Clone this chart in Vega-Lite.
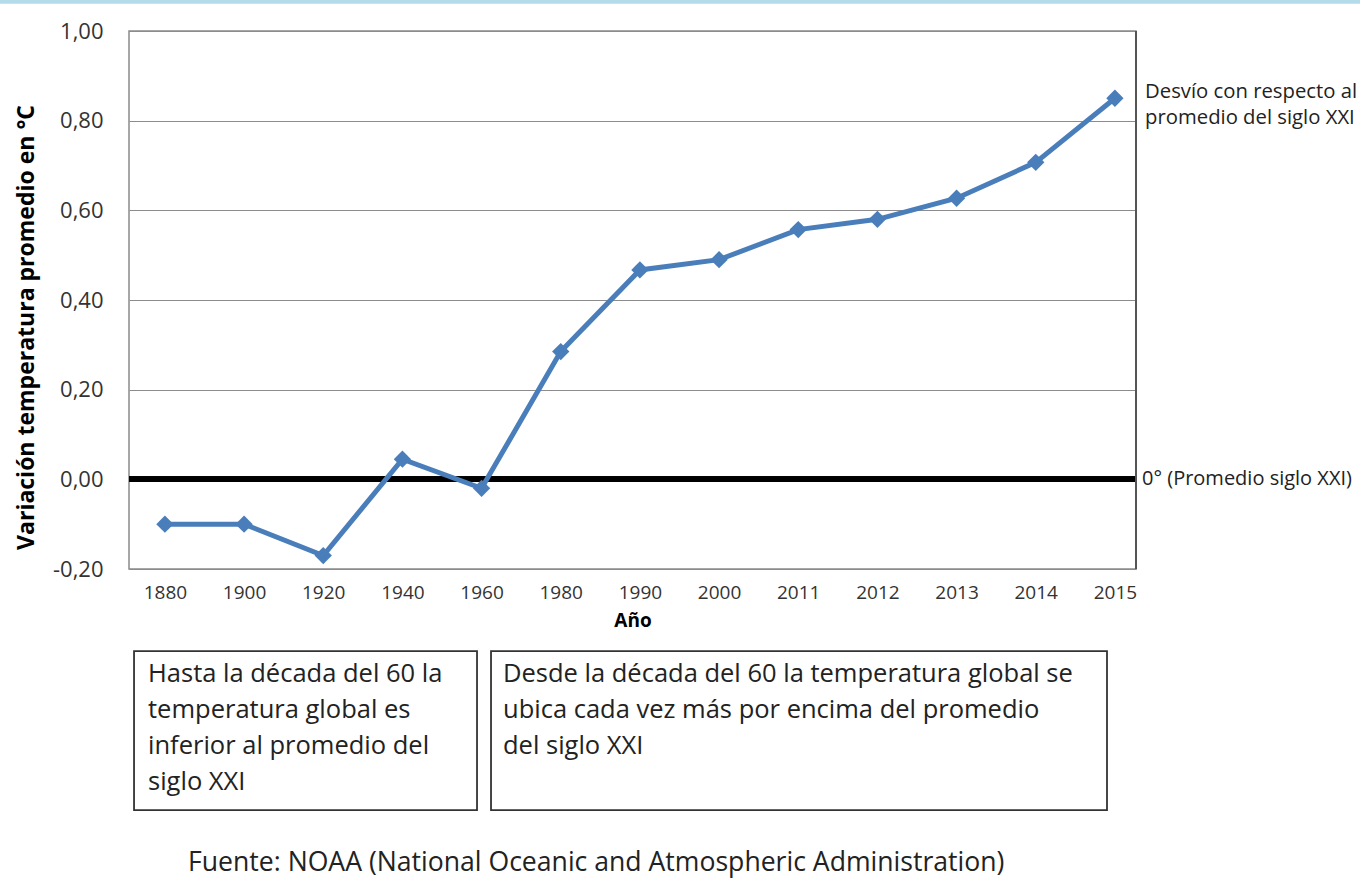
{
  "$schema": "https://vega.github.io/schema/vega-lite/v6.json",
  "width": 1007,
  "height": 538,
  "autosize": {"type": "none"},
  "padding": {"left": 129, "top": 31, "right": 224, "bottom": 311},
  "background": "white",
  "config": {
    "font": "Open Sans",
    "view": {"stroke": "#8a8a8a", "strokeWidth": 1.5}
  },
  "resolve": {"scale": {"x": "independent", "y": "independent"}},
  "layer": [
    {
      "data": {
        "values": [
          {"year": "1880", "value": -0.10},
          {"year": "1900", "value": -0.10},
          {"year": "1920", "value": -0.17},
          {"year": "1940", "value": 0.045},
          {"year": "1960", "value": -0.02},
          {"year": "1980", "value": 0.285},
          {"year": "1990", "value": 0.467},
          {"year": "2000", "value": 0.49},
          {"year": "2011", "value": 0.557},
          {"year": "2012", "value": 0.58},
          {"year": "2013", "value": 0.627},
          {"year": "2014", "value": 0.707},
          {"year": "2015", "value": 0.85}
        ]
      },
      "layer": [
        {
          "mark": {"type": "rule", "color": "#000000", "strokeWidth": 5},
          "encoding": {
            "y": {"datum": 0, "type": "quantitative", "scale": {"domain": [-0.2, 1], "nice": false, "zero": false}}
          }
        },
        {
          "mark": {"type": "line", "color": "#4a7ebb", "strokeWidth": 5},
          "encoding": {
            "x": {
              "field": "year", "type": "ordinal", "sort": null,
              "scale": {"type": "point", "padding": 0.36, "align": 0.63},
              "axis": {
                "title": "Año", "titleFontSize": 19, "titleFontWeight": "bold", "titleColor": "#000000", "titlePadding": 9,
                "labelFontSize": 19, "labelColor": "#333333", "labelPadding": 14, "labelAngle": 0,
                "ticks": false, "domain": false, "grid": false
              }
            },
            "y": {
              "field": "value", "type": "quantitative",
              "scale": {"domain": [-0.2, 1], "nice": false, "zero": false},
              "axis": {
                "values": [-0.2, 0, 0.2, 0.4, 0.6, 0.8, 1],
                "labelExpr": "replace(replace(format(datum.value, '.2f'), '.', ','), '−', '-')",
                "title": "Variación temperatura promedio en °C",
                "titleFontSize": 23, "titleFontWeight": "bold", "titleColor": "#000000", "titlePadding": 14,
                "titleY": 296,
                "labelFontSize": 22, "labelColor": "#333333", "labelPadding": 26,
                "ticks": false, "domain": false,
                "grid": true, "gridColor": "#8c8c8c", "gridWidth": 1
              }
            }
          }
        },
        {
          "mark": {"type": "point", "shape": "diamond", "filled": true, "color": "#4a7ebb", "size": 300, "opacity": 1},
          "encoding": {
            "x": {"field": "year", "type": "ordinal", "sort": null},
            "y": {"field": "value", "type": "quantitative"}
          }
        }
      ]
    },
    {
      "layer": [
        {
          "data": {"values": [{"label": ""}]},
          "mark": {"type": "rect", "fill": "#b3dbe9"},
          "encoding": {
            "x": {"datum": -12.81, "type": "quantitative", "scale": {"domain": [0, 100], "nice": false, "zero": false}, "axis": null},
            "x2": {"datum": 122.3},
            "y": {"datum": 1.069, "type": "quantitative", "scale": {"domain": [-0.2, 1], "nice": false, "zero": false}, "axis": null},
            "y2": {"datum": 1.061}
          }
        },
        {
          "data": {"values": [{"label": "right border"}]},
          "mark": {"type": "rule", "color": "#555555", "strokeWidth": 2},
          "encoding": {
            "x": {"datum": 100, "type": "quantitative", "axis": null},
            "y": {"datum": 1, "type": "quantitative", "axis": null},
            "y2": {"datum": -0.2}
          }
        },
        {
          "data": {"values": [{"label": "box1"}]},
          "mark": {"type": "rect", "fill": "white", "stroke": "#333333", "strokeWidth": 1.8},
          "encoding": {
            "x": {"datum": 0.5, "type": "quantitative", "axis": null},
            "x2": {"datum": 34.56},
            "y": {"datum": -0.383, "type": "quantitative", "axis": null},
            "y2": {"datum": -0.738}
          }
        },
        {
          "data": {"values": [{"label": "box2"}]},
          "mark": {"type": "rect", "fill": "white", "stroke": "#333333", "strokeWidth": 1.8},
          "encoding": {
            "x": {"datum": 35.95, "type": "quantitative", "axis": null},
            "x2": {"datum": 97.12},
            "y": {"datum": -0.383, "type": "quantitative", "axis": null},
            "y2": {"datum": -0.738}
          }
        },
        {
          "data": {"values": [{"label": "Hasta la década del 60 la\ntemperatura global es\ninferior al promedio del\nsiglo XXI"}]},
          "mark": {"type": "text", "align": "left", "baseline": "top", "fontSize": 25.5, "lineHeight": 36, "lineBreak": "\n", "color": "#222222"},
          "encoding": {
            "x": {"datum": 1.89, "type": "quantitative", "axis": null},
            "y": {"datum": -0.407, "type": "quantitative", "axis": null},
            "text": {"field": "label"}
          }
        },
        {
          "data": {"values": [{"label": "Desde la década del 60 la temperatura global se\nubica cada vez más por encima del promedio\ndel siglo XXI"}]},
          "mark": {"type": "text", "align": "left", "baseline": "top", "fontSize": 25.5, "lineHeight": 36, "lineBreak": "\n", "color": "#222222"},
          "encoding": {
            "x": {"datum": 37.14, "type": "quantitative", "axis": null},
            "y": {"datum": -0.407, "type": "quantitative", "axis": null},
            "text": {"field": "label"}
          }
        },
        {
          "data": {"values": [{"label": "Fuente: NOAA (National Oceanic and Atmospheric Administration)"}]},
          "mark": {"type": "text", "align": "center", "baseline": "middle", "fontSize": 26.6, "color": "#222222"},
          "encoding": {
            "x": {"datum": 46.4, "type": "quantitative", "axis": null},
            "y": {"datum": -0.856, "type": "quantitative", "axis": null},
            "text": {"field": "label"}
          }
        },
        {
          "data": {"values": [{"label": "Desvío con respecto al\npromedio del siglo XXI"}]},
          "mark": {"type": "text", "align": "left", "baseline": "top", "fontSize": 20.3, "lineHeight": 26, "lineBreak": "\n", "color": "#222222"},
          "encoding": {
            "x": {"datum": 100.9, "type": "quantitative", "axis": null},
            "y": {"datum": 0.887, "type": "quantitative", "axis": null},
            "text": {"field": "label"}
          }
        },
        {
          "data": {"values": [{"label": "0° (Promedio siglo XXI)"}]},
          "mark": {"type": "text", "align": "left", "baseline": "middle", "fontSize": 20, "color": "#222222"},
          "encoding": {
            "x": {"datum": 100.6, "type": "quantitative", "axis": null},
            "y": {"datum": 0, "type": "quantitative", "axis": null},
            "text": {"field": "label"}
          }
        }
      ]
    }
  ]
}
